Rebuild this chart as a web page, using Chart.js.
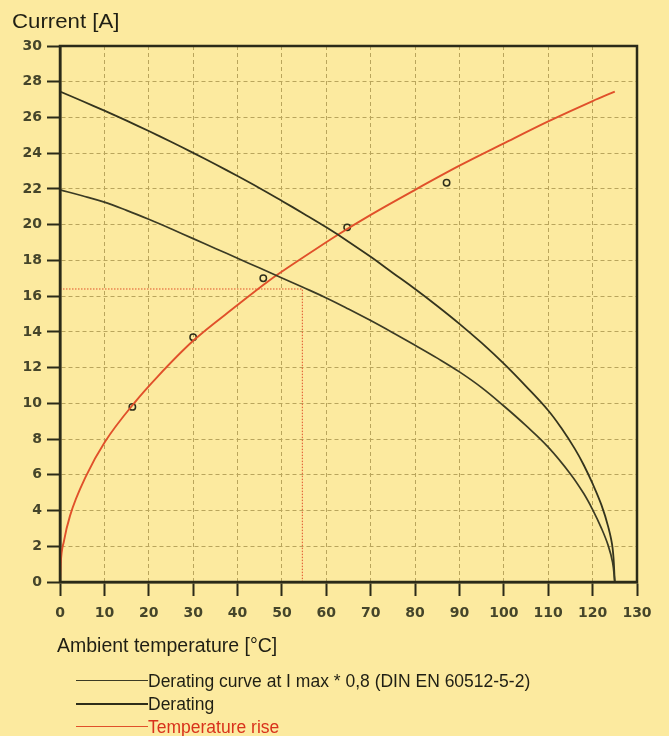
<!DOCTYPE html>
<html>
<head>
<meta charset="utf-8">
<script src="https://cdn.jsdelivr.net/npm/chart.js@4/dist/chart.umd.min.js"></script>
<style>
  html, body { margin: 0; padding: 0; }
  body { width: 669px; height: 736px; background: #fcea9f; position: relative; overflow: hidden;
         font-family: "Liberation Sans", Arial, sans-serif; color: #1f1f14; }
  #wrap { position: absolute; left: 0; top: 0; width: 669px; height: 736px; }
  .lbl { position: absolute; white-space: nowrap; line-height: 1; transform-origin: left top; }
  .leg { position: absolute; left: 76px; height: 20px; }
  .leg span.line { position: absolute; left: 0; width: 72px; top: 9px; }
  .leg span.txt { position: absolute; left: 72px; top: 0; font-size: 17.5px; line-height: 20px; white-space: nowrap; }
</style>
</head>
<body>
<div id="wrap"><canvas id="myChart" width="669" height="736"></canvas></div>

<div class="lbl" style="left:12px; top:12px; font-size:19.5px; transform:scaleX(1.14);">Current [A]</div>
<div class="lbl" style="left:57px; top:636px; font-size:19.5px;">Ambient temperature [°C]</div>

<div class="leg" style="top:671px;">
  <span class="line" style="border-top:1.5px solid #3b3b24;"></span>
  <span class="txt">Derating curve at I max * 0,8 (DIN EN 60512-5-2)</span>
</div>
<div class="leg" style="top:694px;">
  <span class="line" style="border-top:2.5px solid #2e2e1a;"></span>
  <span class="txt">Derating</span>
</div>
<div class="leg" style="top:717px;">
  <span class="line" style="border-top:1.5px solid #e0502a;"></span>
  <span class="txt" style="color:#d8321c;">Temperature rise</span>
</div>

<script>
// upper curve (Derating)
var derTemp = [0, 5, 10, 15, 20, 25, 30, 35, 40, 45, 50, 55, 60, 65, 70, 75, 80, 85, 90, 95, 100, 105, 110, 113, 116, 118, 120, 122, 123.5, 124.5, 125];
var derCur  = [27.45, 26.92, 26.38, 25.82, 25.24, 24.64, 24.02, 23.38, 22.72, 22.04, 21.33, 20.6, 19.85, 19.05, 18.2, 17.3, 16.4, 15.45, 14.45, 13.38, 12.22, 10.95, 9.6, 8.6, 7.45, 6.55, 5.5, 4.3, 3.1, 1.9, 0];

// lower curve (I max * 0,8)
var der80Temp = [0, 5, 10, 15, 20, 25, 30, 35, 40, 45, 50, 54.6, 60, 65, 70, 75, 80, 85, 90, 95, 100, 105, 110, 115, 118, 120, 122, 123.5, 124.5, 125];
var der80Cur  = [21.95, 21.62, 21.26, 20.8, 20.3, 19.77, 19.22, 18.67, 18.12, 17.57, 17.02, 16.51, 15.9, 15.28, 14.63, 13.95, 13.25, 12.53, 11.76, 10.88, 9.85, 8.75, 7.55, 6.05, 4.95, 4.05, 3.0, 2.05, 1.1, 0];

// temperature rise
var riseTemp = [0, 0.15, 0.9, 2.25, 6, 10, 17, 22, 30, 40, 47, 55, 62.7, 70, 80, 90, 100, 110, 120, 125];
var riseCur  = [0, 1, 2.3, 3.7, 6, 7.8, 10.1, 11.5, 13.5, 15.5, 16.85, 18.2, 19.45, 20.55, 21.95, 23.3, 24.55, 25.78, 26.92, 27.45];

// measured points
var measTemp = [16.3, 30, 45.8, 64.7, 87.1];
var measCur  = [9.8, 13.7, 17, 19.85, 22.35];

// dotted reading lines
var refTemp = [0, 54.6, 54.6];
var refCur  = [16.4, 16.4, 0];

var xTicks = [0, 10, 20, 30, 40, 50, 60, 70, 80, 90, 100, 110, 120, 130];
var yTicks = [0, 2, 4, 6, 8, 10, 12, 14, 16, 18, 20, 22, 24, 26, 28, 30];

function pts(xs, ys) {
    return xs.map(function(x, i) { return { x: x, y: ys[i] }; });
}

var gridCol = '#b9a55c';
var axisCol = '#2a2a18';
var tickFont = { family: "'DejaVu Sans', sans-serif", size: 14, weight: 'bold' };

// frame round the plot area
var frame = {
    id: 'frame',
    afterDraw: function(chart) {
        var a = chart.chartArea, c = chart.ctx;
        c.save();
        c.strokeStyle = axisCol;
        c.lineWidth = 2.5;
        c.strokeRect(a.left, a.top, a.right - a.left, a.bottom - a.top);
        c.restore();
    }
};

var ctx = document.getElementById('myChart').getContext('2d');

var chart = new Chart(ctx, {
    type: 'line',
    data: {
        datasets: [{
            label: 'Derating curve at I max * 0,8 (DIN EN 60512-5-2)',
            data: pts(der80Temp, der80Cur),
            borderColor: '#3b3b24',
            borderWidth: 1.7,
            pointRadius: 0,
            tension: 0.4
        },
        {
            label: 'Derating',
            data: pts(derTemp, derCur),
            borderColor: '#34341e',
            borderWidth: 1.8,
            pointRadius: 0,
            tension: 0.4
        },
        {
            label: 'Temperature rise',
            data: pts(riseTemp, riseCur),
            borderColor: '#e0502a',
            borderWidth: 1.9,
            pointRadius: 0,
            cubicInterpolationMode: 'monotone'
        },
        {
            label: 'reading',
            data: pts(refTemp, refCur),
            borderColor: '#e0502a',
            borderWidth: 1,
            borderDash: [1.5, 1.5],
            pointRadius: 0,
            tension: 0
        },
        {
            label: 'points',
            data: pts(measTemp, measCur),
            showLine: false,
            pointRadius: 3.2,
            pointBorderWidth: 1.5,
            pointBorderColor: '#2e2e1a',
            pointBackgroundColor: 'rgba(0,0,0,0)'
        }]
    },
    options: {
        responsive: false,
        animation: false,
        layout: { padding: { left: 0, top: 46, right: 32, bottom: 99 } },
        plugins: { legend: { display: false }, tooltip: { enabled: false } },
        scales: {
            x: {
                type: 'linear',
                min: 0, max: 130,
                afterFit: function(s) { s.height = 55; },
                afterBuildTicks: function(s) { s.ticks = xTicks.map(function(v) { return { value: v }; }); },
                ticks: { color: '#45452a', font: tickFont, padding: 9, maxRotation: 0, autoSkip: false },
                grid: { color: gridCol, lineWidth: 1, tickColor: axisCol, tickWidth: 2, tickLength: 14 },
                border: { color: axisCol, width: 2.5, dash: [4, 3] }
            },
            y: {
                min: 0, max: 30,
                afterFit: function(s) { s.width = 60; },
                afterBuildTicks: function(s) { s.ticks = yTicks.map(function(v) { return { value: v }; }); },
                ticks: { color: '#45452a', font: tickFont, padding: 5, autoSkip: false },
                grid: { color: gridCol, lineWidth: 1, tickColor: axisCol, tickWidth: 2, tickLength: 13 },
                border: { color: axisCol, width: 2.5, dash: [4, 3] }
            }
        }
    },
    plugins: [frame]
});
</script>
</body>
</html>
